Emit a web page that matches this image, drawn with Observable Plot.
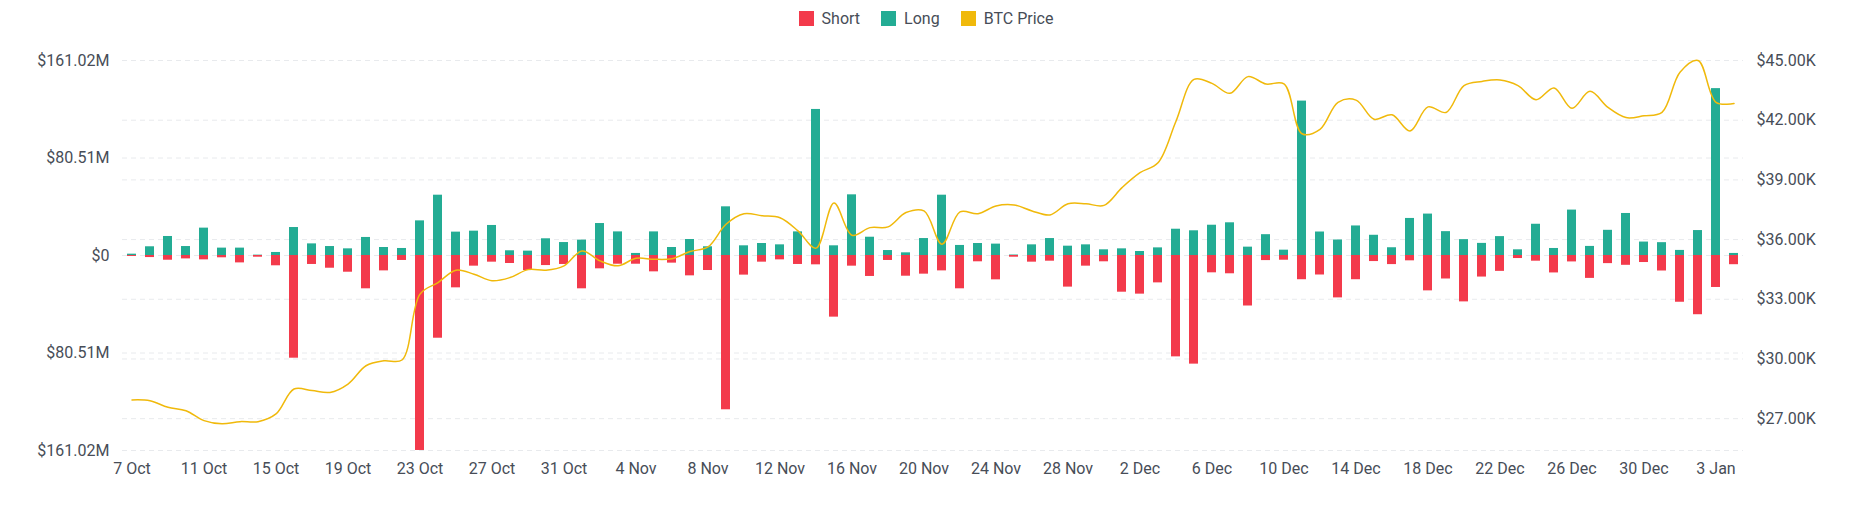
<!DOCTYPE html>
<html>
<head>
<meta charset="utf-8">
<script src="https://cdn.jsdelivr.net/npm/d3@7"></script>
<script src="https://cdn.jsdelivr.net/npm/@observablehq/plot@0.6"></script>
<style>
  body { margin: 0; background: #fff; font-family: Roboto, "Noto Sans", sans-serif; }
  #legend { height: 36px; display: flex; justify-content: center; align-items: center; gap: 21px; font-size: 16px; color: #474D57; }
  .item { display: flex; align-items: center; gap: 8px; }
  .sw { width: 15px; height: 15px; display: inline-block; }
</style>
</head>
<body>
<div id="legend"></div>
<div id="chart"></div>
<script>
// Categories: one per day, 7 Oct 2023 .. 4 Jan 2024
const dates = d3.utcDay.range(new Date("2023-10-07"), new Date("2024-01-05"));

// Long liquidations ($M)
const longM = [
  1.1, 7.2, 15.7, 7.4, 22.6, 6.1, 6.1, 0.3, 2.5, 23.1,
  9.6, 7.4, 5.5, 14.9, 6.6, 5.8, 28.6, 49.8, 19.3, 20.1,
  24.8, 3.9, 3.6, 13.8, 10.7, 12.7, 26.4, 19.5, 1.7, 19.5,
  6.6, 13.2, 7.2, 40.2, 8.0, 9.9, 8.8, 19.5, 120.6, 8.0,
  50.1, 15.1, 4.1, 2.2, 14.0, 49.8, 8.3, 9.9, 9.4, 0.4,
  8.8, 14.0, 7.7, 8.8, 4.7, 5.5, 3.3, 6.3, 21.7, 20.4,
  25.0, 27.0, 6.9, 17.2, 4.4, 127.5, 19.4, 12.8, 24.4, 16.7,
  6.4, 30.6, 34.2, 19.7, 13.1, 10.0, 15.6, 4.7, 25.8, 5.8,
  37.5, 7.5, 20.8, 34.7, 11.1, 10.6, 4.2, 20.6, 137.8, 1.7
];

// Short liquidations ($M)
const shortM = [
  0.8, 1.7, 3.9, 2.8, 3.6, 1.9, 6.1, 1.4, 8.5, 84.8,
  7.4, 10.5, 13.8, 27.5, 12.7, 4.1, 161.0, 68.3, 26.7, 8.8,
  5.5, 6.6, 12.4, 8.3, 7.4, 27.5, 11.0, 7.2, 7.2, 13.5,
  6.3, 16.8, 12.4, 127.4, 16.2, 5.5, 3.6, 7.4, 7.7, 50.9,
  8.8, 17.3, 4.1, 17.1, 15.4, 12.7, 27.5, 5.2, 20.1, 1.4,
  5.5, 4.7, 26.1, 8.8, 5.2, 30.3, 31.9, 22.6, 83.7, 89.7,
  14.3, 15.1, 41.7, 4.2, 3.9, 20.0, 16.1, 35.0, 20.0, 5.0,
  7.5, 4.4, 29.2, 19.4, 38.3, 17.8, 13.1, 2.5, 4.7, 14.4,
  5.3, 18.9, 6.7, 8.1, 5.8, 12.8, 38.6, 48.9, 26.4, 7.6
];

// BTC price ($K)
const btcK = [
  27.94, 27.90, 27.57, 27.40, 26.90, 26.74, 26.85, 26.85, 27.24, 28.49,
  28.41, 28.32, 28.74, 29.66, 29.91, 29.95, 33.26, 33.84, 34.46, 34.26,
  33.93, 34.09, 34.49, 34.46, 34.68, 35.43, 34.93, 34.68, 35.06, 35.01,
  35.04, 35.40, 35.63, 36.77, 37.30, 37.20, 37.10, 36.44, 35.57, 37.84,
  36.22, 36.60, 36.64, 37.36, 37.44, 35.77, 37.39, 37.30, 37.69, 37.74,
  37.44, 37.24, 37.80, 37.80, 37.72, 38.61, 39.36, 39.86, 41.95, 44.05,
  43.85, 43.35, 44.19, 43.82, 43.82, 41.32, 41.54, 42.90, 43.01, 42.05,
  42.27, 41.46, 42.67, 42.39, 43.74, 43.95, 44.02, 43.74, 43.03, 43.62,
  42.60, 43.45, 42.64, 42.13, 42.22, 42.39, 44.41, 45.00, 42.90, 42.84
];

// Axis tick values
const leftTicks = [-161.02, -80.51, 0, 80.51, 161.02];
const priceTicks = [27, 30, 33, 36, 39, 42, 45];

const colors = { Short: "#F33A4B", Long: "#23AC94", "BTC Price": "#F0B90B" };

// Legend
const legend = document.getElementById("legend");
for (const [name, c] of Object.entries(colors)) {
  const it = document.createElement("div");
  it.className = "item";
  it.innerHTML = `<span class="sw" style="background:${c}"></span><span>${name}</span>`;
  legend.appendChild(it);
}

const yMax = 161.02, pMin = 25.4, pMax = 45;
const toY = p => -yMax + (p - pMin) / (pMax - pMin) * 2 * yMax;
const priceLabel = new Map(priceTicks.map(p => [toY(p), `$${p.toFixed(2)}K`]));

const rows = dates.map((d, i) => ({ date: d, long: longM[i], short: -shortM[i], price: toY(btcK[i]) }));

const chart = Plot.plot({
  width: 1852,
  height: 489,
  marginLeft: 122,
  marginRight: 109,
  marginTop: 24,
  marginBottom: 75,
  style: { fontFamily: "Roboto, 'Noto Sans', sans-serif", fontSize: "16px", color: "#474D57", background: "#fff" },
  x: { type: "band", domain: dates, paddingInner: 0.5, paddingOuter: 0.25, label: null },
  y: { domain: [-yMax, yMax], label: null },
  marks: [
    Plot.ruleY([...leftTicks, ...priceTicks.map(toY)], { stroke: "#E8EAED", strokeDasharray: "5,4" }),
    Plot.barY(rows, { x: "date", y: "long", fill: colors.Long }),
    Plot.barY(rows, { x: "date", y: "short", fill: colors.Short }),
    Plot.line(rows, { x: "date", y: "price", stroke: colors["BTC Price"], strokeWidth: 1.5, curve: "catmull-rom" }),
    Plot.axisX({ ticks: dates.filter((d, i) => i % 4 === 0), tickFormat: d3.utcFormat("%-d %b"), tickSize: 0, tickPadding: 12, label: null }),
    Plot.axisY({ ticks: leftTicks, tickFormat: v => v === 0 ? "$0" : `$${Math.abs(v).toFixed(2)}M`, tickSize: 0, tickPadding: 13, label: null }),
    Plot.axisY({ anchor: "right", ticks: priceTicks.map(toY), tickFormat: v => priceLabel.get(v), tickSize: 0, tickPadding: 13, label: null })
  ]
});
document.getElementById("chart").appendChild(chart);
</script>
</body>
</html>
